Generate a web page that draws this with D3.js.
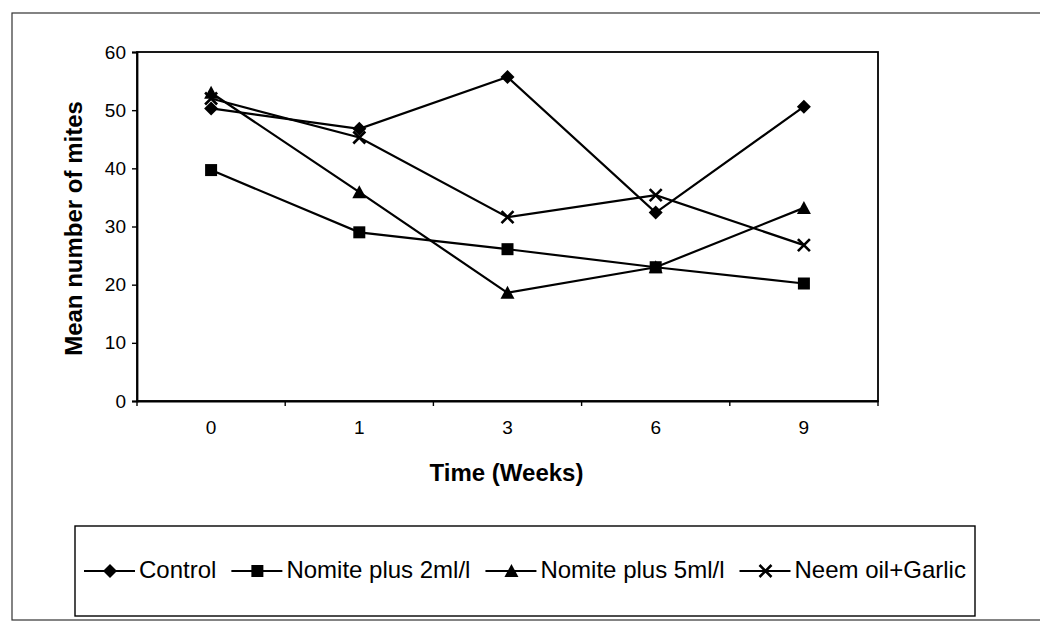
<!DOCTYPE html>
<html>
<head>
<meta charset="utf-8">
<script src="https://cdn.jsdelivr.net/npm/d3@7"></script>
<style>
  body { margin: 0; background: #fff; }
  svg { display: block; font-family: "Liberation Sans", Arial, sans-serif; }
</style>
</head>
<body>
<svg id="chart" width="1040" height="622"></svg>
<script>
// Données
const weeks = ['0', '1', '3', '6', '9']
const control = [50.3, 46.8, 55.7, 32.4, 50.6]
const nomite2 = [39.7, 29.0, 26.1, 23.0, 20.2]
const nomite5 = [53.0, 35.9, 18.6, 23.0, 33.2]
const neem = [52.0, 45.3, 31.6, 35.4, 26.8]
const seriesNames = ['Control', 'Nomite plus 2ml/l', 'Nomite plus 5ml/l', 'Neem oil+Garlic']
const seriesSymbols = ['diamond', 'square', 'triangle', 'cross']
const yTicks = [0, 10, 20, 30, 40, 50, 60]

const series = [control, nomite2, nomite5, neem]

// Zone du graphique
const plot = { left: 137, right: 878, top: 52, bottom: 401 }

const svg = d3.select('#chart')

// Cadre extérieur
svg.append('rect')
  .attr('x', 12).attr('y', 13)
  .attr('width', 1040).attr('height', 607)
  .attr('fill', 'none').attr('stroke', '#333').attr('stroke-width', 1.2)

const x = d3.scaleBand().domain(weeks).range([plot.left, plot.right]).paddingInner(0)
const y = d3.scaleLinear().domain([0, 60]).range([plot.bottom, plot.top])

// Bord de la zone de tracé
svg.append('rect')
  .attr('x', plot.left).attr('y', plot.top)
  .attr('width', plot.right - plot.left).attr('height', plot.bottom - plot.top)
  .attr('fill', 'none').attr('stroke', '#000').attr('stroke-width', 1.8)

// Axe Y
const yAxis = svg.append('g')
  .attr('transform', 'translate(' + plot.left + ',0)')
  .call(d3.axisLeft(y).tickValues(yTicks).tickSize(5).tickPadding(6))
yAxis.select('.domain').attr('stroke-width', 1.8)
yAxis.selectAll('line').attr('stroke-width', 1.4)
yAxis.selectAll('text').attr('font-size', 19).attr('fill', '#000')

// Axe X : étiquettes au centre, graduations entre les catégories
const xAxis = svg.append('g')
  .attr('transform', 'translate(0,' + plot.bottom + ')')
  .call(d3.axisBottom(x).tickSize(0).tickPadding(20))
xAxis.select('.domain').attr('stroke-width', 1.8)
xAxis.selectAll('text').attr('font-size', 19).attr('fill', '#000')

const edges = weeks.map(d => x(d)).concat([x.range()[1]])
xAxis.selectAll('line.edge')
  .data(edges)
  .enter()
  .append('line')
  .attr('class', 'edge')
  .attr('x1', d => d).attr('x2', d => d)
  .attr('y1', 0).attr('y2', 5)
  .attr('stroke', '#000').attr('stroke-width', 1.4)

// Titres des axes
svg.append('text')
  .attr('x', (plot.left + plot.right) / 2 - 1)
  .attr('y', 481)
  .attr('text-anchor', 'middle')
  .attr('font-size', 24).attr('font-weight', 'bold')
  .text('Time (Weeks)')

svg.append('text')
  .attr('transform', 'translate(82,' + ((plot.top + plot.bottom) / 2 + 2) + ') rotate(-90)')
  .attr('text-anchor', 'middle')
  .attr('font-size', 24).attr('font-weight', 'bold')
  .text('Mean number of mites')

// Symboles
function drawSymbol(g, type, cx, cy) {
  if (type === 'diamond') {
    g.append('path')
      .attr('d', 'M' + cx + ',' + (cy - 7) + 'L' + (cx + 7) + ',' + cy + 'L' + cx + ',' + (cy + 7) + 'L' + (cx - 7) + ',' + cy + 'Z')
      .attr('fill', '#000')
  } else if (type === 'square') {
    g.append('rect')
      .attr('x', cx - 6).attr('y', cy - 6).attr('width', 12).attr('height', 12)
      .attr('fill', '#000')
  } else if (type === 'triangle') {
    g.append('path')
      .attr('d', 'M' + cx + ',' + (cy - 7) + 'L' + (cx + 7) + ',' + (cy + 6) + 'L' + (cx - 7) + ',' + (cy + 6) + 'Z')
      .attr('fill', '#000')
  } else {
    g.append('path')
      .attr('d', 'M' + (cx - 6) + ',' + (cy - 6) + 'L' + (cx + 6) + ',' + (cy + 6) + 'M' + (cx + 6) + ',' + (cy - 6) + 'L' + (cx - 6) + ',' + (cy + 6))
      .attr('stroke', '#000').attr('stroke-width', 2.6).attr('fill', 'none')
  }
}

// Séries
const line = d3.line()
  .x((d, i) => x(weeks[i]) + x.bandwidth() / 2)
  .y(d => y(d))

const seriesG = svg.append('g')
series.forEach(function (values, k) {
  seriesG.append('path')
    .attr('d', line(values))
    .attr('fill', 'none').attr('stroke', '#000').attr('stroke-width', 2.2)
  values.forEach(function (v, i) {
    drawSymbol(seriesG, seriesSymbols[k], x(weeks[i]) + x.bandwidth() / 2, y(v))
  })
})

// Légende
svg.append('rect')
  .attr('x', 75).attr('y', 526).attr('width', 900).attr('height', 90)
  .attr('fill', 'none').attr('stroke', '#000').attr('stroke-width', 1.4)

const legendG = svg.append('g')
let lx = 84
const ly = 571
seriesNames.forEach(function (name, k) {
  legendG.append('line')
    .attr('x1', lx).attr('x2', lx + 51).attr('y1', ly).attr('y2', ly)
    .attr('stroke', '#000').attr('stroke-width', 2)
  drawSymbol(legendG, seriesSymbols[k], lx + 26, ly)
  const t = legendG.append('text')
    .attr('x', lx + 55).attr('y', 578)
    .attr('font-size', 24)
    .text(name)
  lx = lx + 55 + t.node().getComputedTextLength() + 15
})
</script>
</body>
</html>
